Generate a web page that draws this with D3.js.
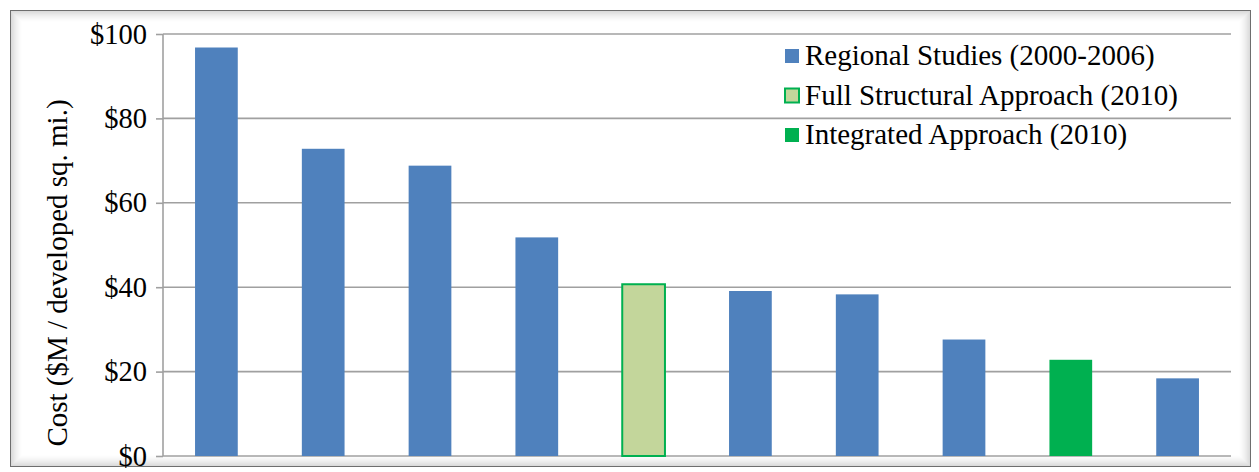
<!DOCTYPE html>
<html>
<head>
<meta charset="utf-8">
<script src="https://cdn.jsdelivr.net/npm/d3@7"></script>
<style>
  body { margin: 0; background: #fff; }
  svg { display: block; font-family: "Liberation Serif", "Times New Roman", serif; }
</style>
</head>
<body>
<svg id="chart" width="1259" height="472"></svg>
<script>
// bars, left to right (no category labels on the x axis)
var costs = [96.8, 72.8, 68.8, 51.8, 40.7, 39.1, 38.3, 27.6, 22.8, 18.4];
var barSeries = [0, 0, 0, 0, 1, 0, 0, 0, 2, 0];

var seriesNames = ['Regional Studies (2000-2006)', 'Full Structural Approach (2010)', 'Integrated Approach (2010)'];
var seriesFill = ['#4f81bd', '#c3d69b', '#00b050'];
var seriesStroke = ['none', '#00b050', 'none'];

var yTicks = [0, 20, 40, 60, 80, 100];
var yTitle = 'Cost ($M / developed sq. mi.)';

var svg = d3.select('#chart');

var plot = {left: 163, right: 1231, top: 34, bottom: 456};

// frame with soft inner shadow
var frame = svg.append('g');
for (var i = 0; i < 12; i++) {
    frame.append('rect')
        .attr('x', 10.5 + i).attr('y', 10.5 + i)
        .attr('width', 1240 - 2 * i).attr('height', 456 - 2 * i)
        .attr('fill', 'none')
        .attr('stroke', i === 0 ? '#6e6e6e' : '#000')
        .attr('stroke-opacity', i === 0 ? 1 : 0.16 * Math.pow(1 - i / 12, 1.5));
}

var x = d3.scaleBand()
    .domain(d3.range(costs.length))
    .range([plot.left, plot.right])
    .paddingInner(0.6)
    .paddingOuter(0.3);

var y = d3.scaleLinear()
    .domain([0, 100])
    .range([plot.bottom, plot.top]);

// gridlines
svg.append('g')
    .selectAll('line')
    .data(yTicks)
    .join('line')
    .attr('x1', plot.left).attr('x2', plot.right)
    .attr('y1', function (d) {return y(d)})
    .attr('y2', function (d) {return y(d)})
    .attr('stroke', '#a0a0a0')
    .attr('stroke-width', 1.6);

// y axis
var yAxis = svg.append('g')
    .attr('transform', 'translate(' + plot.left + ',0)')
    .call(d3.axisLeft(y)
        .tickValues(yTicks)
        .tickSize(7)
        .tickPadding(9)
        .tickFormat(function (d) {return '$' + d}));
yAxis.selectAll('path, line').attr('stroke', '#a0a0a0').attr('stroke-width', 1.6);
yAxis.select('.domain').attr('d', 'M0,' + plot.top + 'V' + plot.bottom);
yAxis.selectAll('text')
    .attr('font-family', '"Liberation Serif", serif')
    .attr('font-size', 28.5)
    .attr('fill', '#000');

// bars
svg.append('g')
    .selectAll('rect')
    .data(costs)
    .join('rect')
    .attr('x', function (d, i) {return x(i)})
    .attr('y', function (d) {return y(d)})
    .attr('width', x.bandwidth())
    .attr('height', function (d) {return y(0) - y(d)})
    .attr('fill', function (d, i) {return seriesFill[barSeries[i]]})
    .attr('stroke', function (d, i) {return seriesStroke[barSeries[i]]})
    .attr('stroke-width', 2);

// y title
svg.append('text')
    .attr('transform', 'translate(67,273) rotate(-90)')
    .attr('text-anchor', 'middle')
    .attr('font-size', 29)
    .attr('fill', '#000')
    .text(yTitle);

// legend
var legend = svg.append('g')
    .attr('transform', 'translate(784,48)');

var rows = legend.selectAll('g')
    .data(seriesNames)
    .join('g')
    .attr('transform', function (d, i) {return 'translate(0,' + i * 39.5 + ')'});

rows.append('rect')
    .attr('x', 1).attr('y', 1)
    .attr('width', 14).attr('height', 14)
    .attr('fill', function (d, i) {return seriesFill[i]})
    .attr('stroke', function (d, i) {return seriesStroke[i]})
    .attr('stroke-width', 2);

rows.append('text')
    .attr('x', 21)
    .attr('y', 17)
    .attr('font-size', 29)
    .attr('fill', '#000')
    .text(function (d) {return d});
</script>
</body>
</html>
